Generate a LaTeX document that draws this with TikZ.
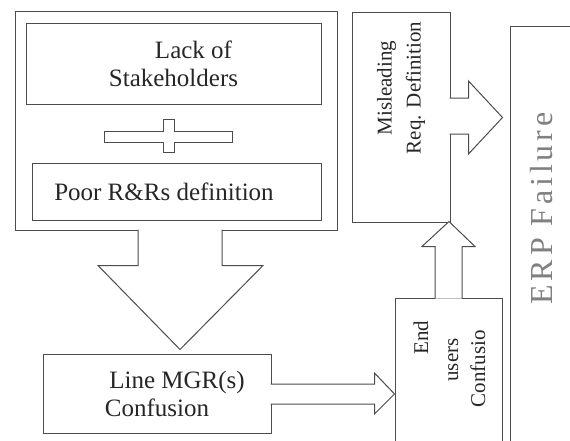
\documentclass[tikz,border=0pt]{standalone}
\usepackage{fontspec}
\setmainfont{Liberation Serif}
\newfontfamily\erpfont[LetterSpace=12]{Liberation Serif}
\usetikzlibrary{calc}

\begin{document}
\begin{tikzpicture}[x=1pt, y=-1pt,
    box/.style={draw=black!70, line width=1pt, rectangle, inner sep=0pt},
    line/.style={draw=black!70, line width=1pt},
    txt/.style={text=black!85, font=\fontsize{25}{28}\selectfont, align=center},
    vtxt/.style={text=black!85, font=\fontsize{21}{29}\selectfont, align=center, rotate=90},
    fatarrow/.style={draw=black!70, line width=1pt, fill=white}]
    \useasboundingbox (0,0) rectangle (570,440);
    \clip (0,0) rectangle (570,440);

    \node[box, minimum width=322pt, minimum height=219pt] (grp) at (176,120.5) {};
    \node[box, txt, minimum width=295pt, minimum height=81pt] (lack) at (173.5,63.5) {\hspace*{40pt}Lack of\\Stakeholders};
    \node[box, txt, minimum width=289pt, minimum height=57pt] (poor) at (176.5,191.5) {Poor R\&Rs definition\hspace*{25pt}};
    \node[box, txt, minimum width=228pt, minimum height=79pt] (mgr) at (157,393.5) {\hspace*{40pt}Line MGR(s)\\Confusion};
    \node[box, minimum width=98pt, minimum height=210pt] (mis) at (401,117) {};
    \node[box, minimum width=107pt, minimum height=172pt] (eu) at (448.5,384) {};
    \node[box, minimum width=90pt, minimum height=444pt] (erp) at (555,248) {};

    \node[vtxt] (mistxt) at (401,88) {Misleading\\Req. Definition};
    \node[vtxt, anchor=base] (eu1) at (428,337.5) {End};
    \node[vtxt, anchor=base] (eu2) at (458,360) {users};
    \node[vtxt, anchor=base] (eu3) at (485,368.5) {Confusio};
    \node[rotate=90, text=black!50, font=\erpfont\fontsize{32}{36}\selectfont] (erptxt) at (542,208.5) {ERP Failure};

    % plus sign between the two causes
    \draw[line] (104,131) -- (163,131) -- (163,119) -- (174,119) -- (174,131) -- (232,131)
        -- (232,142) -- (174,142) -- (174,152) -- (163,152) -- (163,142) -- (104,142) -- cycle;

    % block arrows
    \draw[fatarrow] ($(grp.south)+(-38,-1)$) -- ++(0,36) -- ++(-40,0) -- ++(82,84)
        -- ++(83,-84) -- ++(-41,0) -- ++(0,-36);
    \draw[fatarrow] ($(mgr.east)+(-1,-9.5)$) -- ++(104,0) -- ++(0,-11) -- ++(20,21)
        -- ++(-20,20) -- ++(0,-10) -- ++(-104,0);
    \draw[fatarrow] ($(eu.north)+(-13.5,1)$) -- ++(0,-52) -- ++(-13,0) -- ++(27,-25)
        -- ++(26,25) -- ++(-13,0) -- ++(0,52);
    \draw[fatarrow] ($(mis.east)+(-1,-19)$) -- ++(19,0) -- ++(0,-17) -- ++(34,36.5)
        -- ++(-34,36.5) -- ++(0,-20) -- ++(-19,0);
\end{tikzpicture}
\end{document}
